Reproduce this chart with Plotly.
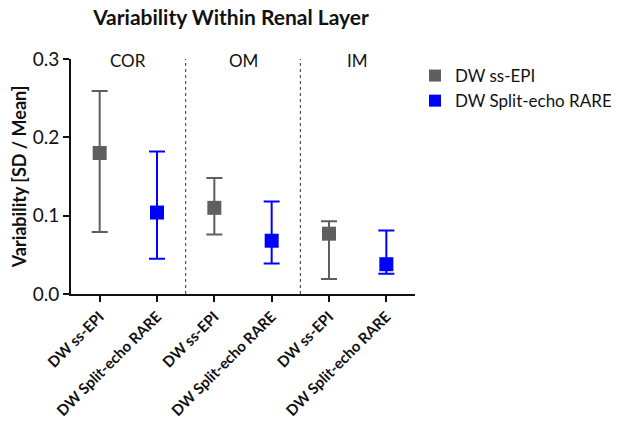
import plotly.graph_objects as go

layers = ["COR", "OM", "IM"]
series_names = ["DW ss-EPI", "DW Split-echo RARE"]
tick_labels = ["DW ss-EPI", "DW Split-echo RARE"] * 3

epi_mean = [0.180, 0.110, 0.077]
epi_upper = [0.259, 0.148, 0.093]
epi_lower = [0.079, 0.076, 0.019]

rare_mean = [0.104, 0.068, 0.038]
rare_upper = [0.182, 0.118, 0.081]
rare_lower = [0.045, 0.039, 0.026]

colors = ["#5f5f5f", "#0000ff"]
FONT = "Lato"

fig = go.Figure()
series = [(epi_mean, epi_upper, epi_lower), (rare_mean, rare_upper, rare_lower)]
for s, (m, up, lo) in enumerate(series):
    xs = [2 * i + s for i in range(len(layers))]
    fig.add_trace(go.Scatter(
        x=xs, y=m, mode="markers", name=series_names[s],
        marker=dict(symbol="square", size=14, color=colors[s]),
        error_y=dict(type="data", symmetric=False,
                     array=[u - v for u, v in zip(up, m)],
                     arrayminus=[v - l for v, l in zip(m, lo)],
                     color=colors[s], thickness=2, width=8),
    ))

for k in range(len(layers) - 1):
    fig.add_shape(type="line", xref="x", yref="y", x0=2 * k + 1.5, x1=2 * k + 1.5,
                  y0=0, y1=0.3, line=dict(color="#333333", width=1, dash="dot"))

for k, name in enumerate(layers):
    fig.add_annotation(x=2 * k + 0.5, y=0.3, xref="x", yref="y", text=name,
                       showarrow=False, yanchor="middle", yshift=-1,
                       font=dict(family=FONT, size=17, color="#111111"))

W, H = 619, 424
fig.update_layout(
    width=W, height=H,
    margin=dict(l=63, r=202, t=51, b=138),
    paper_bgcolor="white", plot_bgcolor="white",
    title=dict(text="<b>Variability Within Renal Layer</b>", x=223 / W, xanchor="center",
               xref="container", y=1 - 2 / H, yanchor="top", yref="container", automargin=False,
               font=dict(family=FONT, size=21, color="#111111")),
    font=dict(family=FONT, color="#111111"),
    showlegend=True,
    legend=dict(x=407 / W, xanchor="left", xref="container",
                y=1 - 50 / H, yanchor="top", yref="container",
                font=dict(family=FONT, size=17, color="#111111"),
                itemsizing="constant", tracegroupgap=3, bgcolor="rgba(0,0,0,0)",
                borderwidth=0),
    xaxis=dict(range=[-0.5, 5.5], tickvals=list(range(6)), ticktext=[f"<b>{t}</b>" for t in tick_labels],
               tickangle=-45, showgrid=False, zeroline=False, showline=True, automargin=False,
               linecolor="#111111", linewidth=2, ticks="outside", ticklen=6, tickwidth=2,
               tickcolor="#111111", tickfont=dict(family=FONT, size=15, color="#111111")),
    yaxis=dict(range=[0, 0.3], tickvals=[0, 0.1, 0.2, 0.3], tickformat=".1f", automargin=False,
               showgrid=False, zeroline=False, showline=True, linecolor="#111111", linewidth=2,
               ticks="outside", ticklen=6, tickwidth=2, tickcolor="#111111",
               tickfont=dict(family=FONT, size=19, color="#111111"),
               title=dict(text="<b>Variability [SD / Mean]</b>", standoff=6,
                          font=dict(family=FONT, size=18, color="#111111"))),
)
fig.update_yaxes(tickprefix="<b>", ticksuffix="</b>")

fig.write_html("out.html")
